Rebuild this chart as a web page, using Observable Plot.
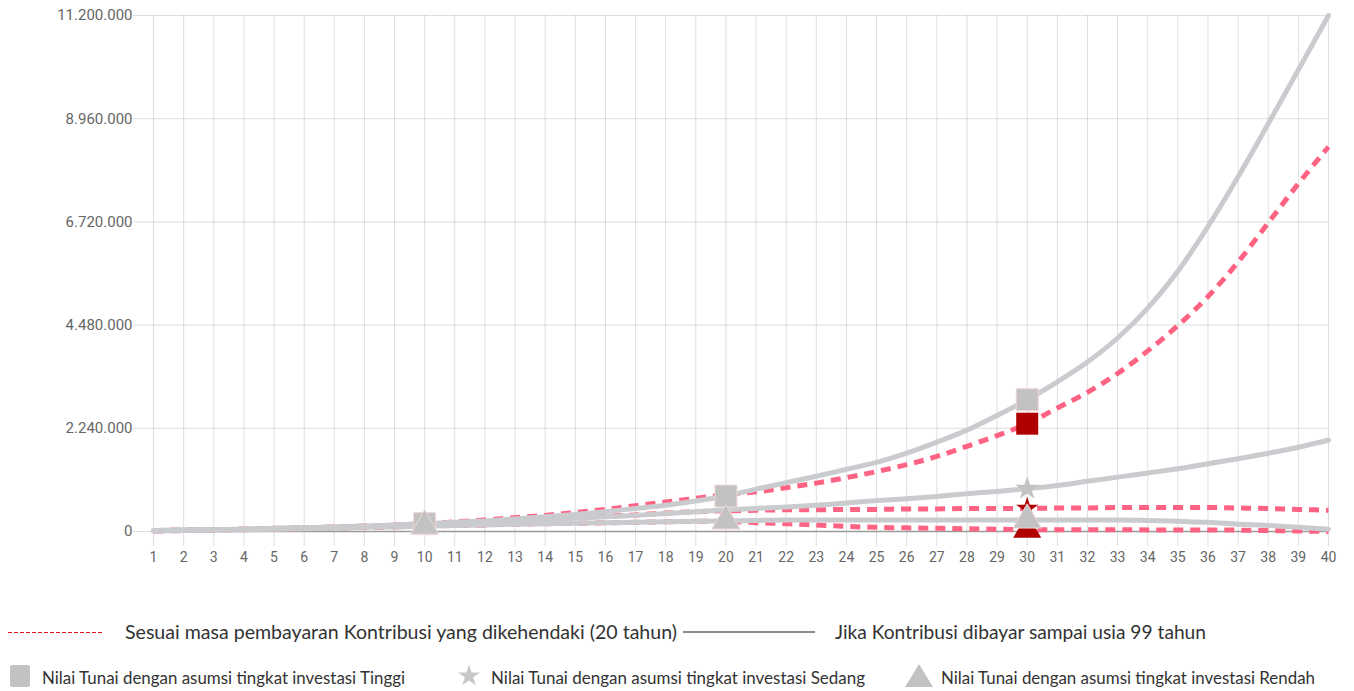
<!DOCTYPE html>
<html><head><meta charset="utf-8">
<script src="https://cdn.jsdelivr.net/npm/d3@7"></script>
<script src="https://cdn.jsdelivr.net/npm/@observablehq/plot@0.6"></script>
<style>
body{margin:0;background:#fff;}
#chart{position:absolute;left:0;top:0;}
#legend{position:absolute;left:0;top:600px;}
</style>
</head><body>
<div id="chart"></div>
<svg id="legend" width="1354" height="91"></svg>
<script>
// ---- data ----
const years = d3.range(1, 41);
const yTicks = [0, 2240000, 4480000, 6720000, 8960000, 11200000];

// "Jika Kontribusi dibayar sampai usia 99 tahun" (solid grey)
const highFull = [20000,30000,40000,50000,70000,80000,100000,120000,140000,170000,
  200000,230000,270000,320000,370000,430000,500000,570000,660000,770000,
  920000,1060000,1200000,1350000,1500000,1700000,1940000,2200000,2520000,2860000,
  3250000,3680000,4200000,4850000,5650000,6620000,7700000,8850000,10020000,11200000];
const midFull = [20000,30000,40000,50000,60000,80000,90000,110000,130000,150000,
  170000,200000,230000,260000,290000,320000,350000,390000,430000,470000,
  500000,530000,570000,620000,670000,710000,760000,820000,870000,930000,
  1000000,1090000,1180000,1270000,1360000,1470000,1580000,1700000,1830000,1980000];
const lowFull = [10000,20000,30000,40000,50000,60000,70000,90000,100000,120000,
  130000,140000,160000,170000,180000,190000,200000,210000,220000,230000,
  240000,250000,250000,250000,250000,250000,250000,250000,250000,250000,
  250000,250000,250000,240000,220000,200000,160000,130000,90000,50000];

// "Sesuai masa pembayaran Kontribusi yang dikehendaki (20 tahun)" (red dashed)
const high20 = [20000,30000,40000,50000,70000,80000,100000,120000,140000,170000,
  210000,250000,300000,350000,410000,480000,560000,640000,720000,800000,
  860000,950000,1050000,1170000,1300000,1450000,1630000,1850000,2080000,2340000,
  2680000,3020000,3430000,3920000,4470000,5100000,5850000,6700000,7550000,8350000];
const mid20 = [20000,30000,40000,50000,60000,80000,90000,110000,130000,150000,
  170000,200000,230000,260000,300000,330000,360000,400000,430000,450000,
  460000,470000,470000,480000,480000,490000,490000,500000,500000,500000,
  510000,510000,520000,520000,520000,520000,510000,500000,480000,460000];
const low20 = [10000,20000,30000,40000,50000,60000,70000,90000,100000,120000,
  130000,140000,160000,170000,180000,190000,200000,210000,220000,220000,
  190000,170000,140000,110000,90000,80000,70000,60000,50000,40000,
  40000,40000,40000,35000,30000,30000,30000,20000,10000,0];

// marker years per series
const greySquareYears = [10, 20, 30];
const greyStarYears = [30];
const greyTriangleYears = [10, 20, 30];
const redMarkerYears = [30];

const legendTop = ["Sesuai masa pembayaran Kontribusi yang dikehendaki (20 tahun)", "Jika Kontribusi dibayar sampai usia 99 tahun"];
const legendBottom = ["Nilai Tunai dengan asumsi tingkat investasi Tinggi", "Nilai Tunai dengan asumsi tingkat investasi Sedang", "Nilai Tunai dengan asumsi tingkat investasi Rendah"];

// ---- build ----
const GREY_LINE = "rgb(201,203,207)";
const RED_LINE = "#ff6384";
const GREY_MARK = "#c2c2c2";
const RED_MARK = "#b00000";

const rows = (arr, series) => years.map((y, i) => ({year: y, value: arr[i], series}));
const greyRows = [...rows(highFull, "high"), ...rows(midFull, "mid"), ...rows(lowFull, "low")];
const redRows = [...rows(high20, "high"), ...rows(mid20, "mid"), ...rows(low20, "low")];
const pick = (arr, ys) => ys.map(y => ({year: y, value: arr[y - 1]}));

const fmt = d3.formatLocale({decimal: ",", thousands: ".", grouping: [3], currency: ["", ""]}).format(",");

const chart = Plot.plot({
  width: 1354, height: 590,
  marginLeft: 153, marginRight: 26, marginTop: 15, marginBottom: 59,
  style: {fontFamily: "Roboto, sans-serif", fontSize: "14px", color: "#666", background: "#fff"},
  x: {domain: [1, 40]},
  y: {domain: [0, 11200000]},
  marks: [
    Plot.gridX(years, {stroke: "#000", strokeOpacity: 0.13}),
    Plot.gridY(yTicks, {stroke: "#000", strokeOpacity: 0.13}),
    Plot.axisX(years, {tickSize: 15, tickPadding: 6, stroke: "#000", strokeOpacity: 0.13, fill: "#666", label: null, tickFormat: d => d}),
    Plot.axisY(yTicks, {tickSize: 20, tickPadding: 1, stroke: "#000", strokeOpacity: 0.13, fill: "#666", fontSize: 15, label: null, tickFormat: fmt}),
    Plot.ruleY([0], {stroke: "#9a9a9a", strokeWidth: 1.5}),
    Plot.line(redRows, {x: "year", y: "value", z: "series", stroke: RED_LINE, strokeWidth: 5, strokeDasharray: "10,7", strokeLinecap: "butt", curve: "monotone-x"}),
    Plot.line(greyRows, {x: "year", y: "value", z: "series", stroke: GREY_LINE, strokeWidth: 5, curve: "monotone-x"}),
    Plot.dot(pick(high20, redMarkerYears), {x: "year", y: "value", symbol: "square", r: 12.4, fill: RED_MARK}),
    Plot.dot(pick(mid20, redMarkerYears), {x: "year", y: "value", symbol: "star", r: 7, fill: RED_MARK}),
    Plot.dot(pick(low20, redMarkerYears), {x: "year", y: "value", symbol: "triangle", r: 10.4, fill: RED_MARK}),
    Plot.dot(pick(highFull, greySquareYears), {x: "year", y: "value", symbol: "square", r: 12.4, fill: GREY_MARK, stroke: "#f0d6d6", strokeWidth: 1}),
    Plot.dot(pick(midFull, greyStarYears), {x: "year", y: "value", symbol: "star", r: 7.4, fill: GREY_MARK}),
    Plot.dot(pick(lowFull, greyTriangleYears), {x: "year", y: "value", symbol: "triangle", r: 10.4, fill: GREY_MARK, stroke: "#f0d6d6", strokeWidth: 1})
  ]
});
document.getElementById("chart").append(chart);

// ---- legend ----
const lg = d3.select("#legend");
const txt = (x, y, w, s, size) => lg.append("text").attr("x", x).attr("y", y).attr("textLength", w)
  .attr("lengthAdjust", "spacingAndGlyphs").attr("font-family", "Lato, sans-serif")
  .attr("font-size", size).attr("fill", "#333").text(s);
lg.append("line").attr("x1", 8).attr("x2", 103).attr("y1", 32.5).attr("y2", 32.5)
  .attr("stroke", "#e3101a").attr("stroke-width", 1).attr("stroke-dasharray", "4,2");
txt(125, 39, 552, legendTop[0], 20);
lg.append("line").attr("x1", 683).attr("x2", 815).attr("y1", 32).attr("y2", 32)
  .attr("stroke", "#8c8c8c").attr("stroke-width", 2);
txt(835, 39, 371, legendTop[1], 20);
lg.append("rect").attr("x", 10).attr("y", 65).attr("width", 20).attr("height", 22).attr("rx", 2).attr("fill", GREY_MARK);
txt(42, 84, 363, legendBottom[0], 18);
lg.append("path").attr("transform", "translate(469,76)").attr("d", d3.symbol(d3.symbolStar, 150)()).attr("fill", "#c8c8c8");
txt(491, 84, 374, legendBottom[1], 18);
lg.append("path").attr("d", "M919,64 L933,87 L905,87 Z").attr("fill", GREY_MARK);
txt(941, 84, 374, legendBottom[2], 18);
</script>
</body></html>
